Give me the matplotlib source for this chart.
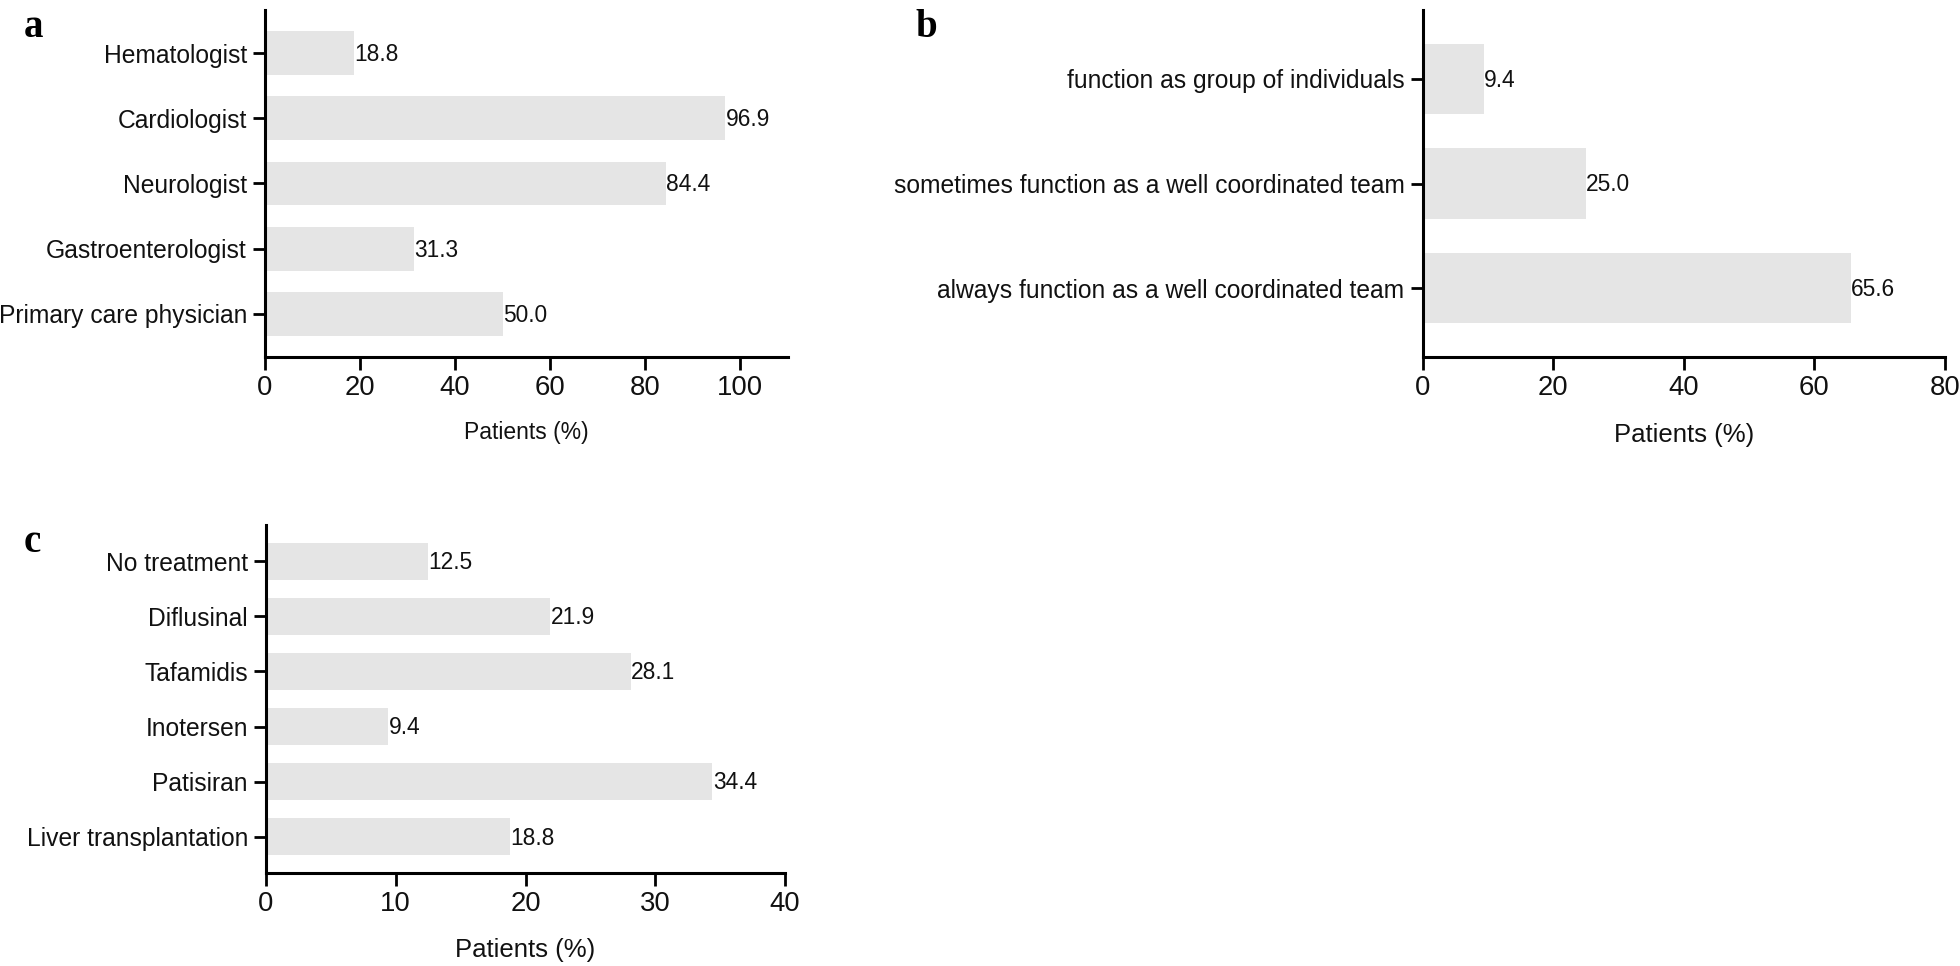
import matplotlib
matplotlib.use("Agg")
import matplotlib.pyplot as plt

plt.rcParams['font.family'] = ['Liberation Sans', 'DejaVu Sans']

# Data
cats_a = ["Hematologist", "Cardiologist", "Neurologist", "Gastroenterologist", "Primary care physician"]
vals_a = [18.8, 96.9, 84.4, 31.3, 50.0]

cats_b = ["function as group of individuals", "sometimes function as a well coordinated team",
          "always function as a well coordinated team"]
vals_b = [9.4, 25.0, 65.6]

cats_c = ["No treatment", "Diflusinal", "Tafamidis", "Inotersen", "Patisiran", "Liver transplantation"]
vals_c = [12.5, 21.9, 28.1, 9.4, 34.4, 18.8]

xlabel = "Patients (%)"
bar_color = "#e5e5e5"

W, H = 1960, 966
fig = plt.figure(figsize=(W / 100, H / 100), dpi=100)


def px_axes(left, right, top, bottom):
    return fig.add_axes([left / W, 1 - bottom / H, (right - left) / W, (bottom - top) / H])


def panel(ax, cats, vals, xmax, xticks, ytick_fs, xtick_fs, val_fs, xlabel_fs, labelpad):
    n = len(cats)
    pos = list(range(n))
    ax.barh(pos, vals, height=0.67, color=bar_color, edgecolor='none', zorder=1)
    for p, v in zip(pos, vals):
        ax.annotate(f"{v:.1f}", xy=(v, p), xytext=(0.3, -1), textcoords='offset points',
                    ha='left', va='center', fontsize=val_fs, color='#111111')
    ax.set_yticks(pos)
    ax.set_yticklabels(cats, fontsize=ytick_fs, color='#111111')
    ax.set_ylim(n - 1 + 0.66, -0.66)
    ax.set_xlim(0, xmax)
    ax.set_xticks(xticks)
    ax.set_xticklabels([str(t) for t in xticks], fontsize=xtick_fs, color='#111111')
    ax.set_xlabel(xlabel, fontsize=xlabel_fs, labelpad=labelpad, color='#111111')
    for s in ['top', 'right']:
        ax.spines[s].set_visible(False)
    for s in ['left', 'bottom']:
        ax.spines[s].set_linewidth(2.2)
        ax.spines[s].set_color('black')
    ax.tick_params(axis='both', direction='out', length=9, width=2.0, color='black')
    ax.tick_params(axis='y', pad=4)
    ax.tick_params(axis='x', pad=4)
    ax.set_facecolor('none')


ax_a = px_axes(265, 787.5, 10, 357)
panel(ax_a, cats_a, vals_a, 110, [0, 20, 40, 60, 80, 100], 17.7, 19.8, 16.4, 16.5, 14)

ax_b = px_axes(1422.5, 1945, 10, 357)
panel(ax_b, cats_b, vals_b, 80, [0, 20, 40, 60, 80], 17.7, 19.8, 16.4, 18.5, 16)

ax_c = px_axes(266, 785, 525, 873)
panel(ax_c, cats_c, vals_c, 40, [0, 10, 20, 30, 40], 17.7, 19.8, 16.4, 18.5, 15)

for lab, (x, y) in zip(["a", "b", "c"], [(24, 37), (915, 37), (24, 552)]):
    fig.text(x / W, 1 - y / H, lab, fontsize=28, fontweight='bold',
             family=['Liberation Serif', 'DejaVu Serif'], ha='left', va='baseline')

fig.savefig("out.png", dpi=100)
